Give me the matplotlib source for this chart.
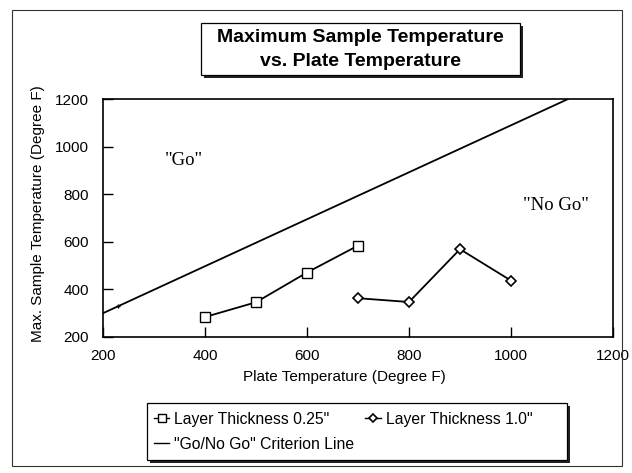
import matplotlib
matplotlib.use("Agg")
from matplotlib import pyplot as plt
from matplotlib.patches import Rectangle
from matplotlib.lines import Line2D

plt.rcParams['font.family'] = ['Liberation Sans', 'DejaVu Sans']

# data
plate_025 = [400, 500, 600, 700]
max_025 = [284, 346, 471, 584]

plate_10 = [700, 800, 900, 1000]
max_10 = [363, 347, 569, 437]

crit_x = [200, 1112]
crit_y = [300, 1200]
crit_mark_x = [230]
crit_mark_y = [330]

x_ticks = [200, 400, 600, 800, 1000, 1200]
y_ticks = [200, 400, 600, 800, 1000, 1200]

W, H = 632, 473
fig = plt.figure(figsize=(W / 100, H / 100), dpi=100)


def fx(px):
    return px / W


def fy(py):
    return 1 - py / H


# outer frame
fig.patches.append(Rectangle((fx(12), fy(466)), fx(610), 456 / H, transform=fig.transFigure,
                             fill=False, edgecolor='#333333', linewidth=0.8))

ax = fig.add_axes([fx(103), fy(337), fx(613) - fx(103), fy(99) - fy(337)])

ax.plot(crit_x, crit_y, color='black', linewidth=1.3, label='"Go/No Go" Criterion Line')
ax.plot(crit_mark_x, crit_mark_y, marker='+', color='black', markersize=3, linestyle='none')
ax.plot(plate_025, max_025, color='black', linewidth=1.3, marker='s', markersize=7,
        markerfacecolor='white', markeredgecolor='black', markeredgewidth=1.0,
        label='Layer Thickness 0.25"')
ax.plot(plate_10, max_10, color='black', linewidth=1.3, marker='D', markersize=5,
        markerfacecolor='white', markeredgecolor='black', markeredgewidth=1.2,
        label='Layer Thickness 1.0"')

ax.set_xlim(200, 1200)
ax.set_ylim(200, 1200)
ax.set_xticks(x_ticks)
ax.set_yticks(y_ticks)
ax.tick_params(direction='in', length=7, width=1.0, labelsize=11)
ax.tick_params(axis='x', pad=9)
ax.tick_params(axis='y', pad=10)
for s in ax.spines.values():
    s.set_linewidth(1.2)

ax.set_xlabel('Plate Temperature (Degree F)', fontsize=11)
ax.set_ylabel('Max. Sample Temperature (Degree F)', fontsize=11)
ax.xaxis.set_label_coords(0.4725, -0.137)
ax.yaxis.set_label_coords(-0.114, 0.517)

ax.text(358, 941, '"Go"', family=['Liberation Serif'], fontsize=13.5, ha='center', va='center')
ax.text(1088, 754, '"No Go"', family=['Liberation Serif'], fontsize=13.5, ha='center', va='center')

# title box with shadow
tx0, ty0, tx1, ty1 = 201, 23, 520, 75
fig.patches.append(Rectangle((fx(tx0 + 3), fy(ty1 + 3)), fx(tx1 - tx0), (ty1 - ty0) / H,
                             transform=fig.transFigure, facecolor='#222222', edgecolor='none'))
fig.patches.append(Rectangle((fx(tx0), fy(ty1)), fx(tx1 - tx0), (ty1 - ty0) / H,
                             transform=fig.transFigure, facecolor='white', edgecolor='black',
                             linewidth=0.9))
fig.text(fx((tx0 + tx1) / 2), fy(37), 'Maximum Sample Temperature', fontsize=14,
         fontweight='bold', ha='center', va='center')
fig.text(fx((tx0 + tx1) / 2), fy(62), 'vs. Plate Temperature', fontsize=14,
         fontweight='bold', ha='center', va='center')

# legend box with shadow
lx0, ly0, lx1, ly1 = 147, 403, 567, 460
fig.patches.append(Rectangle((fx(lx0 + 3), fy(ly1 + 3)), fx(lx1 - lx0), (ly1 - ly0) / H,
                             transform=fig.transFigure, facecolor='#222222', edgecolor='none'))
fig.patches.append(Rectangle((fx(lx0), fy(ly1)), fx(lx1 - lx0), (ly1 - ly0) / H,
                             transform=fig.transFigure, facecolor='white', edgecolor='black',
                             linewidth=0.9))
h_sq = Line2D([], [], color='black', linewidth=1.0, marker='s', markersize=6,
              markerfacecolor='white', markeredgecolor='black')
h_di = Line2D([], [], color='black', linewidth=1.0, marker='D', markersize=4,
              markerfacecolor='white', markeredgecolor='black', markeredgewidth=1.2)
h_cr = Line2D([], [], color='black', linewidth=1.0)
leg = fig.legend([h_sq, h_cr, h_di],
                 ['Layer Thickness 0.25"', '"Go/No Go" Criterion Line', 'Layer Thickness 1.0"'],
                 ncol=2, loc='upper left', bbox_to_anchor=(fx(lx0 + 2), fy(ly0 + 4)),
                 frameon=False, fontsize=11.3, handlelength=1.0, handletextpad=0.3,
                 columnspacing=0.7, labelspacing=0.65, borderaxespad=0, borderpad=0.3)

fig.savefig('out.png', dpi=100)
